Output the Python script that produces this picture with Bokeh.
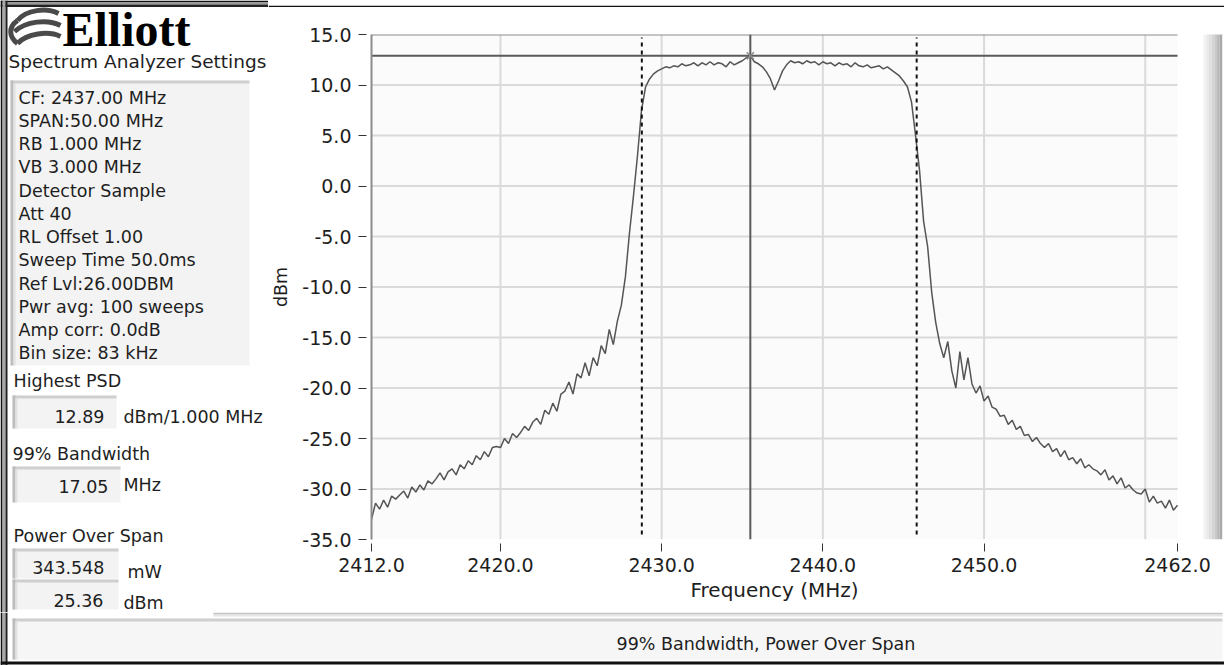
import numpy as np
from bokeh.plotting import figure
from bokeh.models import Range1d, FixedTicker, Title
from bokeh.layouts import row, column
from bokeh.core.properties import value
from bokeh.embed import file_html
from bokeh.resources import INLINE

# ---------------- data ----------------
# trace level (dBm) sampled every 0.25 MHz from 2412.0 to 2462.0 MHz
levels = [
    -33.0, -31.4, -32.0, -31.1, -31.8, -30.7, -31.0, -30.6,   # 2412
    -30.2, -30.9, -29.8, -30.3, -29.6, -30.1, -29.2, -29.5,   # 2414
    -29.0, -28.4, -29.1, -28.3, -28.0, -28.6, -27.6, -28.0,   # 2416
    -27.2, -27.6, -26.7, -27.1, -26.3, -26.8, -25.9, -25.8,   # 2418
    -25.9, -25.0, -25.5, -24.5, -24.9, -24.4, -23.8, -24.2,   # 2420
    -23.4, -23.0, -23.6, -22.2, -22.6, -21.5, -22.3, -20.6,   # 2422
    -20.3, -19.4, -20.6, -18.6, -19.0, -17.5, -18.8, -17.0,   # 2424
    -17.8, -15.8, -16.6, -14.2, -15.7, -13.4, -11.8, -9.0,    # 2426
    -4.7, -1.0, 3.0, 7.5, 9.8, 10.6, 11.1, 11.4,              # 2428
    11.6, 11.8, 11.7, 11.9, 11.8, 12.1, 11.9, 12.0,           # 2430
    12.2, 11.9, 12.2, 12.0, 12.3, 12.0, 12.2, 12.1,           # 2432
    11.8, 12.3, 12.0, 12.2, 12.4, 12.7, 12.89, 12.3,          # 2434
    12.1, 11.8, 11.3, 10.6, 9.5, 10.4, 11.4, 12.0,            # 2436
    12.4, 12.2, 12.3, 12.1, 12.4, 12.2, 12.3, 12.0,           # 2438
    12.3, 12.1, 12.2, 11.9, 12.2, 12.0, 12.1, 11.8,           # 2440
    12.2, 11.9, 11.8, 12.0, 11.7, 11.8, 11.9, 11.6,           # 2442
    11.8, 11.5, 11.2, 10.9, 10.4, 9.8, 8.3, 5.0,              # 2444
    1.5, -3.5, -6.0, -10.5, -13.5, -15.6, -17.0, -15.4,       # 2446
    -18.3, -20.0, -16.4, -19.2, -17.0, -19.6, -20.5, -19.8,   # 2448
    -21.3, -20.8, -21.9, -22.1, -22.8, -22.7, -23.6, -23.2,   # 2450
    -24.1, -23.8, -24.7, -24.6, -25.3, -24.9, -25.5, -25.9,   # 2452
    -25.5, -26.3, -26.0, -26.8, -26.2, -27.1, -26.9, -27.5,   # 2454
    -27.0, -27.9, -27.6, -28.0, -28.2, -28.6, -28.1, -29.1,   # 2456
    -28.7, -29.5, -28.9, -29.9, -29.6, -30.1, -30.4, -30.5,   # 2458
    -30.0, -31.3, -30.7, -31.4, -31.2, -31.9, -31.1, -32.1,   # 2460
    -31.6,                                                    # 2462
]
F_START, F_STOP = 2412.0, 2462.0
freqs = np.linspace(F_START, F_STOP, len(levels))

x_ticks = [2412, 2420, 2430, 2440, 2450, 2462]
x_grid = [2420, 2430, 2440, 2450, 2460]
y_ticks = [15, 10, 5, 0, -5, -10, -15, -20, -25, -30, -35]
y_grid = [10, 5, 0, -5, -10, -15, -20, -25, -30]
Y_MIN, Y_MAX = -35.0, 15.0
x_title = "Frequency (MHz)"
y_title = "dBm"

PEAK_PSD = 12.89          # dBm / 1 MHz
OBW_START = 2428.77       # MHz
OBW_WIDTH = 17.05         # MHz

settings_lines = [
    "CF: 2437.00 MHz", "SPAN:50.00 MHz", "RB 1.000 MHz", "VB 3.000 MHz",
    "Detector Sample", "Att 40", "RL Offset 1.00", "Sweep Time 50.0ms",
    "Ref Lvl:26.00DBM", "Pwr avg: 100 sweeps", "Amp corr: 0.0dB", "Bin size: 83 kHz",
]
psd_value, psd_unit = "12.89", "dBm/1.000 MHz"
bw_value, bw_unit = "17.05", "MHz"
pow_mw, pow_mw_unit = "343.548", "mW"
pow_dbm, pow_dbm_unit = "25.36", "dBm"
status_text = "99% Bandwidth, Power Over Span"

FONT = "DejaVu Sans"
TXT = "#1e1e1e"

PAGE_W = 1224
TOP_BAR = 7
LEFT_W = 268
ROW_BOTTOM = 612
PAGE_H = 665


def canvas_fig(x0, x1, y0, y1):
    f = figure(width=int(x1 - x0), height=int(y1 - y0),
               x_range=Range1d(x0, x1), y_range=Range1d(y1, y0),
               min_border=0, toolbar_location=None, output_backend="svg",
               x_axis_location=None, y_axis_location=None,
               outline_line_color=None, background_fill_color="white",
               border_fill_color="white")
    f.grid.visible = False
    return f


def sunken_box(f, l, r, t, b, fill="#f3f3f3"):
    f.quad(left=[l], right=[r], top=[t], bottom=[b], fill_color=fill, line_color=None)
    f.quad(left=[l], right=[r], top=[t], bottom=[t + 3], fill_color="#cfcfcf", line_color=None)
    f.quad(left=[l], right=[l + 3], top=[t], bottom=[b], fill_color="#bdbdbd", line_color=None)
    f.quad(left=[l + 3], right=[l + 5], top=[t + 3], bottom=[b], fill_color="#e2e2e2", line_color=None)


def text(f, xs, ys, ts, size="17.5px", align="left", color=TXT, font=FONT):
    f.text(x=xs, y=ys, text=ts, text_font=value(font), text_font_size=size,
           text_align=align, text_baseline="middle", text_color=color)


def left_border(f, y0, y1):
    f.quad(left=[0], right=[2], top=[y0], bottom=[y1], fill_color="#111111", line_color=None)
    f.quad(left=[2], right=[5], top=[y0], bottom=[y1], fill_color="#a8a8a8", line_color=None)
    f.quad(left=[5], right=[7], top=[y0], bottom=[y1], fill_color="#222222", line_color=None)


def top_border(f, x0, x1):
    f.quad(left=[x0], right=[x1], top=[0], bottom=[1.5], fill_color="#111111", line_color=None)
    f.quad(left=[x0], right=[x1], top=[1.5], bottom=[4], fill_color="#9a9a9a", line_color=None)
    f.quad(left=[x0], right=[x1], top=[4], bottom=[6.5], fill_color="#222222", line_color=None)


# ---------------- top border above the chart ----------------
tb = canvas_fig(LEFT_W, PAGE_W, 0, TOP_BAR)
top_border(tb, LEFT_W, PAGE_W)

# ---------------- left panel ----------------
lp = canvas_fig(0, LEFT_W, 0, ROW_BOTTOM)
top_border(lp, 0, LEFT_W)
left_border(lp, 0, ROW_BOTTOM)

# logo swirl + name
lp.bezier(x0=[17, 14, 17, 17], y0=[20, 31, 43, 20],
          x1=[58, 60, 60, 17], y1=[13, 25, 36, 43],
          cx0=[26, 25, 26, 7], cy0=[9, 21, 33, 27],
          cx1=[46, 47, 48, 9], cy1=[7, 18, 30, 37],
          line_color="#4a4a4a", line_width=5)
lp.text(x=[62], y=[29], text=["Elliott"], text_font=value("Liberation Serif"),
        text_font_size="48px", text_font_style="bold", text_color="#000000",
        text_baseline="middle", text_align="left")

text(lp, [8], [61], ["Spectrum Analyzer Settings"], size="18.5px")

sunken_box(lp, 10, 249, 80, 365)
ys = [97 + 23.25 * i for i in range(len(settings_lines))]
text(lp, [18] * len(settings_lines), ys, settings_lines)

text(lp, [13], [380], ["Highest PSD"])
sunken_box(lp, 12, 116, 395, 428)
text(lp, [104], [416], [psd_value], align="right")
text(lp, [123], [416], [psd_unit])

text(lp, [12], [453], ["99% Bandwidth"])
sunken_box(lp, 12, 120, 466, 502)
text(lp, [108], [486], [bw_value], align="right")
text(lp, [123], [484], [bw_unit])

text(lp, [13], [535], ["Power Over Span"])
sunken_box(lp, 12, 118, 548, 578)
text(lp, [104], [567], [pow_mw], align="right")
text(lp, [127], [571], [pow_mw_unit])
sunken_box(lp, 12, 118, 579, 609)
text(lp, [103], [600], [pow_dbm], align="right")
text(lp, [123], [602], [pow_dbm_unit])

# ---------------- chart ----------------
CH_W = PAGE_W - LEFT_W
CH_H = ROW_BOTTOM - TOP_BAR
FRAME_L, FRAME_R_DATA = 371, 1177        # page px of 2412 and 2462
FRAME_R = 1222                           # frame extends under the side strip
PX_PER_MHZ = (FRAME_R_DATA - FRAME_L) / (F_STOP - F_START)
X_END = F_START + (FRAME_R - FRAME_L) / PX_PER_MHZ

p = figure(width=CH_W, height=CH_H,
           x_range=Range1d(F_START, X_END), y_range=Range1d(Y_MIN, Y_MAX),
           min_border_left=FRAME_L - LEFT_W, min_border_right=PAGE_W - FRAME_R,
           min_border_top=34 - TOP_BAR, min_border_bottom=ROW_BOTTOM - 539,
           toolbar_location=None, output_backend="svg",
           background_fill_color="white", border_fill_color="white",
           outline_line_color=None, y_axis_label=y_title)

p.xaxis.ticker = FixedTicker(ticks=x_ticks)
p.yaxis.ticker = FixedTicker(ticks=y_ticks)
p.xaxis.major_label_overrides = {t: f"{t:.1f}" for t in x_ticks}
p.yaxis.major_label_overrides = {t: f"{t:.1f}" for t in y_ticks}

for ax in (p.xaxis, p.yaxis):
    ax.major_label_text_font = FONT
    ax.major_label_text_color = TXT
    ax.axis_label_text_font = FONT
    ax.axis_label_text_font_style = "normal"
    ax.axis_label_text_color = TXT
    ax.major_tick_line_color = "#333333"
    ax.major_tick_line_width = 1
    ax.minor_tick_line_color = None

p.xaxis.major_label_text_font_size = "19px"
p.yaxis.major_label_text_font_size = "19px"
p.yaxis.axis_label_text_font_size = "17.5px"

p.xaxis.axis_line_color = None
p.xaxis.major_tick_in = -4
p.xaxis.major_tick_out = 12
p.xaxis.major_label_standoff = 6

p.yaxis.axis_line_color = "#8c8c8c"
p.yaxis.axis_line_width = 2
p.yaxis.major_tick_in = -5
p.yaxis.major_tick_out = 13
p.yaxis.major_label_standoff = 7
p.yaxis.axis_label_standoff = 8

# x-axis title centred under the 2412-2462 sweep span
p.add_layout(Title(text=x_title, align="left", offset=319, standoff=2,
                   text_font=FONT, text_font_size="20px", text_font_style="normal",
                   text_color=TXT), "below")

p.grid.visible = False

# graph area background, grid and top border (limited to the sweep span)
p.quad(left=[F_START], right=[F_STOP], bottom=[Y_MIN], top=[Y_MAX],
       fill_color="#fbfbfb", line_color=None)
p.segment(x0=x_grid, x1=x_grid, y0=[Y_MIN] * len(x_grid), y1=[Y_MAX] * len(x_grid),
          line_color="#dadada", line_width=2)
p.segment(x0=[F_START] * len(y_grid), x1=[F_STOP] * len(y_grid), y0=y_grid, y1=y_grid,
          line_color="#dadada", line_width=2)
p.segment(x0=[F_START], x1=[F_STOP], y0=[Y_MAX], y1=[Y_MAX], line_color="#8c8c8c", line_width=2)

# side strip of the panel
strip = ["#f2f2f2", "#e9e9e9", "#dfdfdf", "#d4d4d4", "#c8c8c8", "#bababa", "#aaaaaa"]
STRIP_W = 19 / PX_PER_MHZ
for k, c in enumerate(strip):
    p.quad(left=[X_END - STRIP_W + STRIP_W * k / len(strip)],
           right=[X_END - STRIP_W + STRIP_W * (k + 1) / len(strip)],
           bottom=[Y_MIN], top=[Y_MAX + 2], fill_color=c, line_color=None)

# trace
p.line(freqs, levels, line_color="#555555", line_width=1.5)

# peak markers
i_pk = int(np.argmax(levels))
f_pk = float(freqs[i_pk])
p.segment(x0=[F_START], x1=[F_STOP], y0=[PEAK_PSD], y1=[PEAK_PSD], line_color="#5a5a5a", line_width=2)
p.segment(x0=[f_pk], x1=[f_pk], y0=[Y_MIN], y1=[Y_MAX], line_color="#5a5a5a", line_width=2)
p.scatter([f_pk], [PEAK_PSD], marker="x", size=10, line_color="#8a8a8a", line_width=1.5)

# 99% occupied bandwidth edges
for loc in (OBW_START, OBW_START + OBW_WIDTH):
    p.segment(x0=[loc], x1=[loc], y0=[Y_MIN + 0.5], y1=[Y_MAX - 0.3], line_color="#111111",
              line_width=2, line_dash="4 4")

# ---------------- status bar ----------------
sb = canvas_fig(0, PAGE_W, ROW_BOTTOM, PAGE_H)
left_border(sb, ROW_BOTTOM, PAGE_H)
sb.quad(left=[213], right=[1222], top=[612], bottom=[614], fill_color="#c4c4c4", line_color=None)
sb.quad(left=[213], right=[1222], top=[614], bottom=[616], fill_color="#e4e4e4", line_color=None)
sunken_box(sb, 12, 1222, 618, 659, fill="#f6f6f6")
text(sb, [616], [643], [status_text])
sb.quad(left=[0], right=[PAGE_W], top=[661], bottom=[664], fill_color="#111111", line_color=None)

layout = column(row(column(lp), column(row(tb), p, spacing=0), spacing=0), sb, spacing=0)
open("out.html", "w").write(file_html(layout, INLINE))
